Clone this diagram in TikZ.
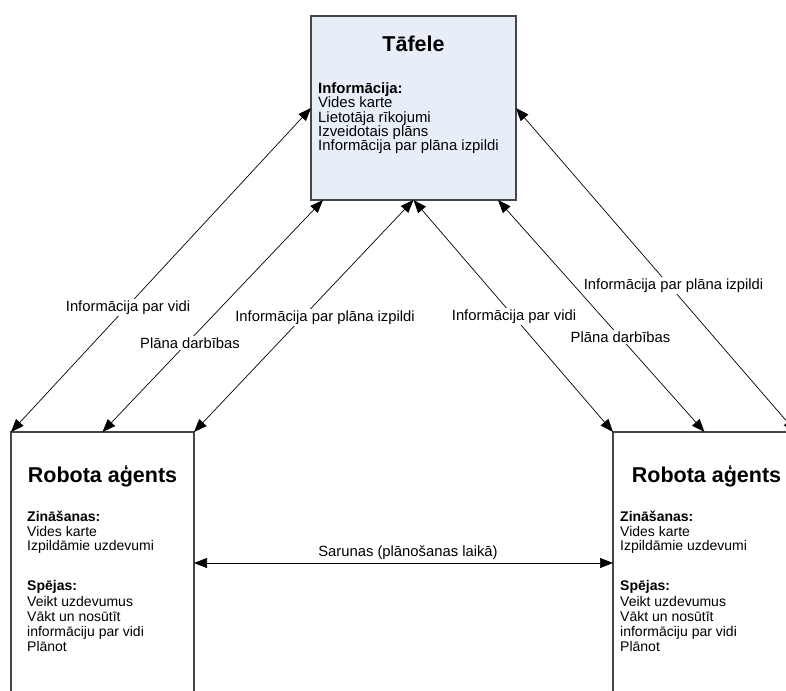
\documentclass[tikz,border=0pt]{standalone}
\usepackage{fontspec}
\setmainfont{Liberation Sans}
\usetikzlibrary{arrows.meta}
\definecolor{boardfill}{RGB}{232,238,248}
\definecolor{edgegray}{RGB}{70,70,70}

\begin{document}
\begin{tikzpicture}[x=1pt,y=-1pt,
  boardbox/.style={draw=edgegray, line width=1.2pt, fill=boardfill,
    minimum width=205pt, minimum height=184pt, inner sep=0pt, outer sep=0pt},
  agentbox/.style={draw=edgegray, line width=1.1pt, fill=white,
    minimum width=183pt, minimum height=290pt, inner sep=0pt, outer sep=0pt},
  link/.style={draw=black, line width=0.7pt,
    {Triangle[length=13pt,width=10pt]}-{Triangle[length=13pt,width=10pt]}},
  title/.style={font=\fontsize{21.5}{24}\selectfont\bfseries, anchor=base, inner sep=0pt},
  txt/.style={font=\fontsize{14.9}{16}\selectfont, anchor=base west, inner sep=0pt},
  hd/.style={font=\fontsize{14.9}{16}\selectfont\bfseries, anchor=base west, inner sep=0pt},
  atxt/.style={font=\fontsize{14}{16}\selectfont, anchor=base west, inner sep=0pt},
  ahd/.style={font=\fontsize{14}{16}\selectfont\bfseries, anchor=base west, inner sep=0pt},
  lbl/.style={font=\fontsize{14.8}{16}\selectfont, fill=white, anchor=base, inner sep=1.5pt}]

\useasboundingbox (0,0) rectangle (786,690);
\fill[white] (0,0) rectangle (786,690);
\clip (0,0) rectangle (786,690);

% blackboard and the two robot agents
\node[boardbox] (board) at (413.5,108) {};
\node[agentbox] (robL) at (102.5,577) {};
\node[agentbox] (robR) at (704.5,577) {};

% connectors between the blackboard and the agents
\draw[link] (board.west) -- (robL.north west);
\draw[link] ([xshift=12pt]board.south west) -- (robL.north);
\draw[link] (board.south) -- (robL.north east);
\draw[link] (board.south) -- (robR.north west);
\draw[link] ([xshift=-18pt]board.south east) -- (robR.north);
\draw[link] (board.east) -- (robR.north east);

% negotiation between the agents
\draw[link] (robL.north east |- 0,563) -- (robR.north west |- 0,563);

% connector labels
\node[lbl] (l1) at (128,311) {Informācija par vidi};
\node[lbl] (l2) at (190,348) {Plāna darbības};
\node[lbl] (l3) at (325,321) {Informācija par plāna izpildi};
\node[lbl] (r1) at (514,320) {Informācija par vidi};
\node[lbl] (r2) at (620.5,342) {Plāna darbības};
\node[lbl] (r3) at (673.5,289) {Informācija par plāna izpildi};
\node[lbl] (sar) at (408,556) {Sarunas (plānošanas laikā)};

% blackboard contents
\node[title] (tb) at (413.5,52) {Tāfele};
\node[hd]  (tb0) at (318,94)  {Informācija:};
\node[txt] (tb1) at (318,108) {Vides karte};
\node[txt] (tb2) at (318,122) {Lietotāja rīkojumi};
\node[txt] (tb3) at (318,136) {Izveidotais plāns};
\node[txt] (tb4) at (318,150) {Informācija par plāna izpildi};

% left agent contents
\node[title] (ta) at (102.5,482) {Robota aģents};
\node[ahd]  (a0) at (27,521) {Zināšanas:};
\node[atxt] (a1) at (27,536) {Vides karte};
\node[atxt] (a2) at (27,550) {Izpildāmie uzdevumi};
\node[ahd]  (a3) at (27,590) {Spējas:};
\node[atxt] (a4) at (27,606) {Veikt uzdevumus};
\node[atxt] (a5) at (27,621) {Vākt un nosūtīt};
\node[atxt] (a6) at (27,636) {informāciju par vidi};
\node[atxt] (a7) at (27,651) {Plānot};

% right agent contents
\node[title] (tc) at (706.5,482) {Robota aģents};
\node[ahd]  (c0) at (620,521) {Zināšanas:};
\node[atxt] (c1) at (620,536) {Vides karte};
\node[atxt] (c2) at (620,550) {Izpildāmie uzdevumi};
\node[ahd]  (c3) at (620,590) {Spējas:};
\node[atxt] (c4) at (620,606) {Veikt uzdevumus};
\node[atxt] (c5) at (620,621) {Vākt un nosūtīt};
\node[atxt] (c6) at (620,636) {informāciju par vidi};
\node[atxt] (c7) at (620,651) {Plānot};
\end{tikzpicture}
\end{document}
